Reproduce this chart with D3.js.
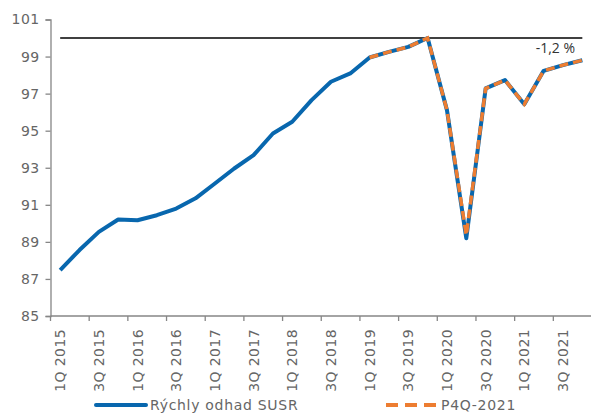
<!DOCTYPE html>
<html>
<head>
<meta charset="utf-8">
<script src="https://cdn.jsdelivr.net/npm/d3@7"></script>
<style>
  body { margin: 0; background: #fff; }
  svg { display: block; }
</style>
</head>
<body>
<script>
// quarters 1Q 2015 .. 4Q 2021
var years = [2015, 2016, 2017, 2018, 2019, 2020, 2021]
var quarters = []
years.forEach(function(y){
  for (var q = 1; q <= 4; q++) quarters.push(q + "Q " + y)
})

// index (100 = 4Q 2019)
var rychlyOdhad = [87.48, 88.56, 89.54, 90.21, 90.17, 90.44, 90.8, 91.35,
                   92.15, 92.96, 93.68, 94.85, 95.48, 96.65, 97.64, 98.09,
                   98.95, 99.25, 99.52, 100.0, 96.11, 89.2, 97.28, 97.73,
                   96.43, 98.23, 98.54, 98.8]
var p4q2021 = [null, null, null, null, null, null, null, null,
               null, null, null, null, null, null, null, null,
               98.95, 99.25, 99.52, 100.0, 96.11, 89.35, 97.28, 97.73,
               96.43, 98.23, 98.54, 98.8]
var yTicks = [85, 87, 89, 91, 93, 95, 97, 99, 101]
var refLevel = 100
var legendNames = ["Rýchly odhad SUSR", "P4Q-2021"]
var annotation = "-1,2 %"

var width = 591, height = 414
var margin = {top: 19.5, right: 0, bottom: 98, left: 50.5}
var axisColor = "#868686"
var labelColor = "#666"
var font = "'DejaVu Sans', Verdana, sans-serif"
var blue = "#0867ae", orange = "#ed7d31"

var svg = d3.select("body").append("svg")
            .attr("width", width)
            .attr("height", height)

var x = d3.scaleBand()
          .domain(quarters)
          .range([margin.left, 592])
var y = d3.scaleLinear()
          .domain([85, 101])
          .range([height - margin.bottom, margin.top])

var cx = function(i){ return x(quarters[i]) + x.bandwidth() / 2 }

// y axis
var yAxis = svg.append("g")
  .attr("transform", "translate(" + margin.left + ",0)")
  .call(d3.axisLeft(y).tickValues(yTicks).tickSize(5).tickPadding(6))
yAxis.select(".domain").attr("stroke", axisColor).attr("stroke-width", 1.3)
yAxis.selectAll(".tick line").attr("stroke", axisColor).attr("stroke-width", 1.3)
yAxis.selectAll(".tick text")
  .attr("fill", labelColor)
  .style("font-family", font)
  .style("font-size", "14px")
  .style("letter-spacing", "0.4px")

// x axis
var x0 = y(85)
svg.append("line")
   .attr("x1", margin.left).attr("x2", 592)
   .attr("y1", x0).attr("y2", x0)
   .attr("stroke", axisColor).attr("stroke-width", 1.3)
svg.selectAll(".xtick")
   .data(quarters.filter(function(d, i){ return i % 2 == 0 }))
   .enter().append("line")
   .attr("x1", function(d){ return x(d) }).attr("x2", function(d){ return x(d) })
   .attr("y1", x0).attr("y2", x0 + 5)
   .attr("stroke", axisColor).attr("stroke-width", 1.3)
svg.selectAll(".xlab")
   .data(quarters.filter(function(d, i){ return i % 2 == 0 }))
   .enter().append("text")
   .attr("transform", function(d){
     return "translate(" + (x(d) + x.bandwidth() / 2 + 5) + "," + (x0 + 13) + ") rotate(-90)"
   })
   .attr("text-anchor", "end")
   .attr("fill", labelColor)
   .style("font-family", font)
   .style("font-size", "14px")
   .style("letter-spacing", "0.4px")
   .text(function(d){ return d })

// reference line at 100
svg.append("line")
   .attr("x1", cx(0)).attr("x2", cx(quarters.length - 1))
   .attr("y1", y(refLevel)).attr("y2", y(refLevel))
   .attr("stroke", "#000").attr("stroke-width", 1.5)

var line = d3.line()
  .defined(function(d){ return d != null })
  .x(function(d, i){ return cx(i) })
  .y(function(d){ return y(d) })

svg.append("path")
   .attr("d", line(rychlyOdhad))
   .attr("fill", "none")
   .attr("stroke", blue)
   .attr("stroke-width", 4)
   .attr("stroke-linejoin", "round")

svg.append("path")
   .attr("d", line(p4q2021))
   .attr("fill", "none")
   .attr("stroke", orange)
   .attr("stroke-width", 3.5)
   .attr("stroke-dasharray", "9,5")

svg.append("text")
   .attr("x", 575).attr("y", 53)
   .attr("text-anchor", "end")
   .attr("fill", "#333")
   .style("font-family", "'Open Sans', sans-serif")
   .style("font-size", "14px")
   .text(annotation)

// legend
var legY = 405
svg.append("line")
   .attr("x1", 96).attr("x2", 146).attr("y1", legY).attr("y2", legY)
   .attr("stroke", blue).attr("stroke-width", 4).attr("stroke-linecap", "round")
svg.append("line")
   .attr("x1", 386).attr("x2", 437).attr("y1", legY).attr("y2", legY)
   .attr("stroke", orange).attr("stroke-width", 4).attr("stroke-dasharray", "12,7")
svg.selectAll(".leg")
   .data(legendNames)
   .enter().append("text")
   .attr("x", function(d, i){ return i == 0 ? 150 : 441 })
   .attr("y", legY + 5)
   .attr("fill", labelColor)
   .style("font-family", font)
   .style("font-size", "14px")
   .style("letter-spacing", "0.7px")
   .text(function(d){ return d })
</script>
</body>
</html>
